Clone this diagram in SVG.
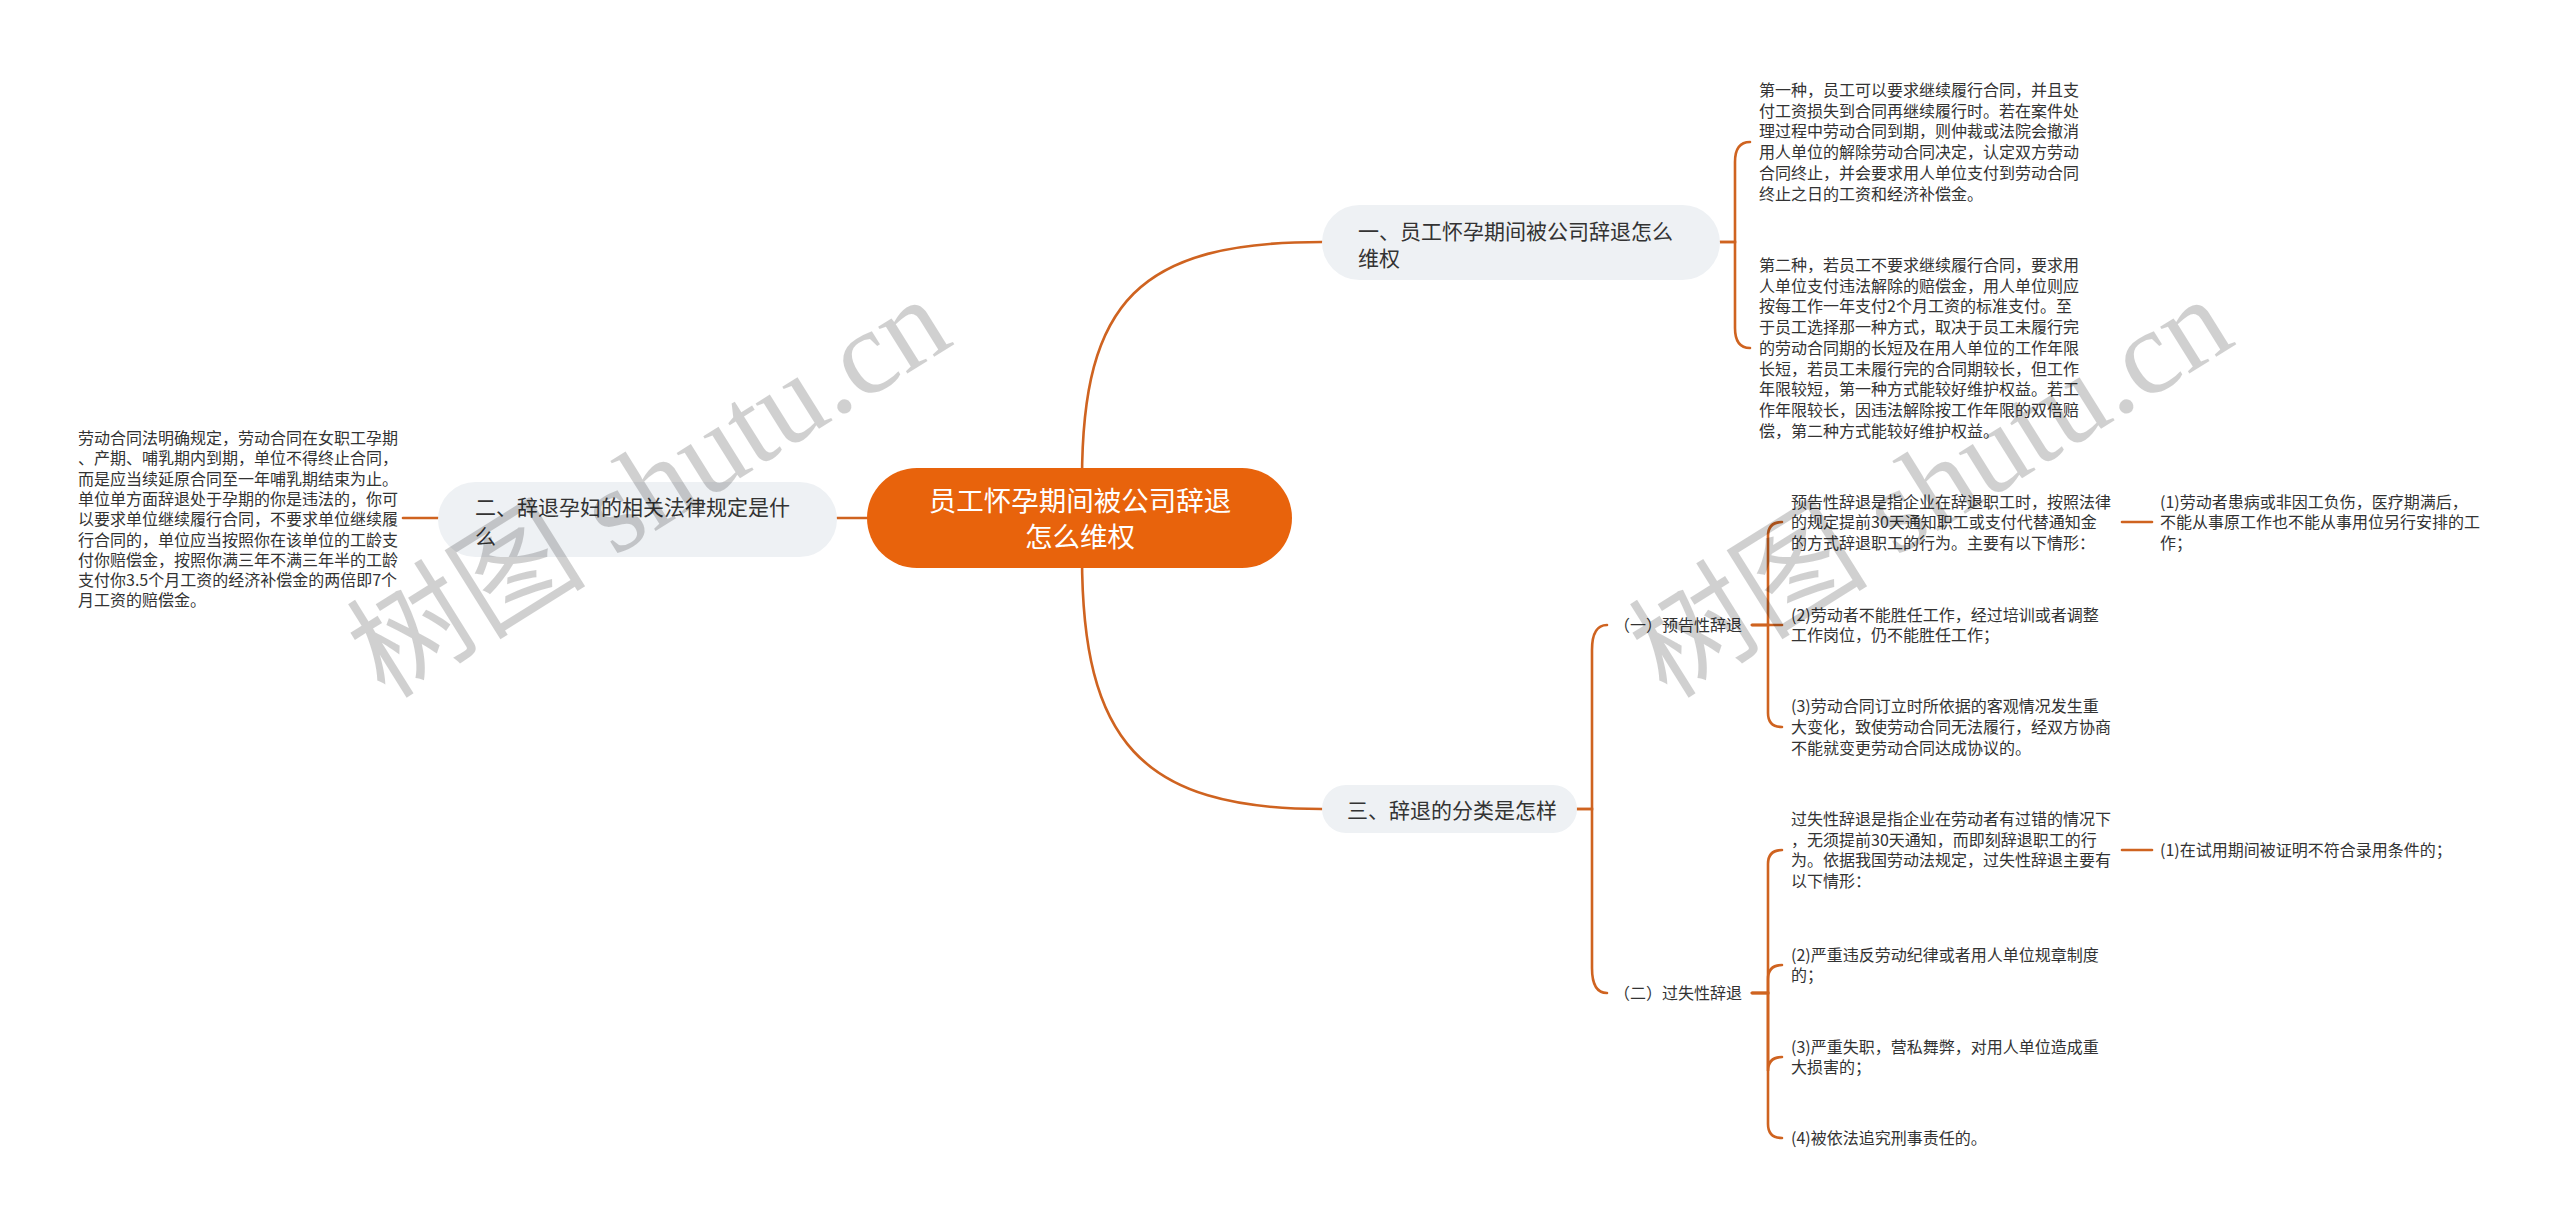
<svg xmlns="http://www.w3.org/2000/svg" width="2560" height="1225" viewBox="0 0 2560 1225">
<style>
.bg{fill:#ffffff}
.conn{fill:none;stroke:#CF6320;stroke-width:2.6;stroke-linecap:round}
.root{fill:#E8630C}
.sub{fill:#EEF1F4}
.rt{font-family:"Noto Sans CJK SC","Noto Sans",sans-serif;font-size:27.5px;fill:#ffffff;text-anchor:middle}
.st{font-family:"Noto Sans CJK SC","Noto Sans",sans-serif;font-size:21px;fill:#333333}
.lt{font-family:"Noto Sans CJK SC","Noto Sans",sans-serif;font-size:16px;fill:#333333}
.wm{font-family:"Liberation Serif","Noto Sans CJK SC",serif;font-size:120px;fill:#000000;opacity:0.18}
</style>
<rect class="bg" x="0" y="0" width="2560" height="1225"/>
<g id="connectors">
<path class="conn" d="M1082,480 C1082,300 1140,242 1322,242"/>
<path class="conn" d="M1082,556 C1082,740 1140,809 1322,809"/>
<path class="conn" d="M867,518 H837"/>
<path class="conn" d="M438,518 H403"/>
<path class="conn" d="M1720,242 H1735 V162 Q1735,142 1750,142"/>
<path class="conn" d="M1720,242 H1735 V328 Q1735,348 1750,348"/>
<path class="conn" d="M1577,809 H1592 V650 Q1592,625 1607,625"/>
<path class="conn" d="M1577,809 H1592 V968 Q1592,993 1607,993"/>
<path class="conn" d="M1752,625 H1768 V536 Q1768,522 1782,522"/>
<path class="conn" d="M1752,625 H1782"/>
<path class="conn" d="M1752,625 H1768 V713 Q1768,727 1782,727"/>
<path class="conn" d="M2122,522 H2152"/>
<path class="conn" d="M1752,993 H1768 V864 Q1768,850 1782,850"/>
<path class="conn" d="M1752,993 H1768 V979 Q1768,965 1782,965"/>
<path class="conn" d="M1752,993 H1768 V1071 Q1768,1057 1782,1057"/>
<path class="conn" d="M1752,993 H1768 V1124 Q1768,1138 1782,1138"/>
<path class="conn" d="M2122,850 H2152"/>
</g>
<g id="root">
<rect class="root" x="867" y="468" width="425" height="100" rx="50"/>
<text class="rt" x="1080" y="510.5">员工怀孕期间被公司辞退</text>
<text class="rt" x="1080" y="547">怎么维权</text>
</g>
<g id="n1">
<rect class="sub" x="1322" y="205" width="398" height="75" rx="37.5"/>
<text class="st" x="1358" y="238.5">一、员工怀孕期间被公司辞退怎么</text>
<text class="st" x="1358" y="266">维权</text>
</g>
<g id="n1a">
<text class="lt" x="1759" y="96">第一种，员工可以要求继续履行合同，并且支</text>
<text class="lt" x="1759" y="116.7">付工资损失到合同再继续履行时。若在案件处</text>
<text class="lt" x="1759" y="137.4">理过程中劳动合同到期，则仲裁或法院会撤消</text>
<text class="lt" x="1759" y="158.1">用人单位的解除劳动合同决定，认定双方劳动</text>
<text class="lt" x="1759" y="178.8">合同终止，并会要求用人单位支付到劳动合同</text>
<text class="lt" x="1759" y="199.5">终止之日的工资和经济补偿金。</text>
</g>
<g id="n1b">
<text class="lt" x="1759" y="271">第二种，若员工不要求继续履行合同，要求用</text>
<text class="lt" x="1759" y="291.7">人单位支付违法解除的赔偿金，用人单位则应</text>
<text class="lt" x="1759" y="312.4">按每工作一年支付2个月工资的标准支付。至</text>
<text class="lt" x="1759" y="333.1">于员工选择那一种方式，取决于员工未履行完</text>
<text class="lt" x="1759" y="353.8">的劳动合同期的长短及在用人单位的工作年限</text>
<text class="lt" x="1759" y="374.5">长短，若员工未履行完的合同期较长，但工作</text>
<text class="lt" x="1759" y="395.2">年限较短，第一种方式能较好维护权益。若工</text>
<text class="lt" x="1759" y="415.9">作年限较长，因违法解除按工作年限的双倍赔</text>
<text class="lt" x="1759" y="436.6">偿，第二种方式能较好维护权益。</text>
</g>
<g id="n2">
<rect class="sub" x="438" y="482" width="399" height="75" rx="37.5"/>
<text class="st" x="475" y="515">二、辞退孕妇的相关法律规定是什</text>
<text class="st" x="475" y="543.5">么</text>
</g>
<g id="n2a">
<text class="lt" x="78" y="444">劳动合同法明确规定，劳动合同在女职工孕期</text>
<text class="lt" x="78" y="464.3">、产期、哺乳期内到期，单位不得终止合同，</text>
<text class="lt" x="78" y="484.6">而是应当续延原合同至一年哺乳期结束为止。</text>
<text class="lt" x="78" y="504.9">单位单方面辞退处于孕期的你是违法的，你可</text>
<text class="lt" x="78" y="525.2">以要求单位继续履行合同，不要求单位继续履</text>
<text class="lt" x="78" y="545.5">行合同的，单位应当按照你在该单位的工龄支</text>
<text class="lt" x="78" y="565.8">付你赔偿金，按照你满三年不满三年半的工龄</text>
<text class="lt" x="78" y="586.1">支付你3.5个月工资的经济补偿金的两倍即7个</text>
<text class="lt" x="78" y="606.4">月工资的赔偿金。</text>
</g>
<g id="n3">
<rect class="sub" x="1322" y="785" width="255" height="48" rx="24"/>
<text class="st" x="1347" y="817.5">三、辞退的分类是怎样</text>
</g>
<g id="n3a">
<text class="lt" x="1614" y="631">（一）预告性辞退</text>
</g>
<g id="n3a1">
<text class="lt" x="1791" y="507.5">预告性辞退是指企业在辞退职工时，按照法律</text>
<text class="lt" x="1791" y="528.3">的规定提前30天通知职工或支付代替通知金</text>
<text class="lt" x="1791" y="549.1">的方式辞退职工的行为。主要有以下情形：</text>
</g>
<g id="n3a1a">
<text class="lt" x="2160" y="507.5">(1)劳动者患病或非因工负伤，医疗期满后，</text>
<text class="lt" x="2160" y="528.3">不能从事原工作也不能从事用位另行安排的工</text>
<text class="lt" x="2160" y="549.1">作；</text>
</g>
<g id="n3a2">
<text class="lt" x="1791" y="620.6">(2)劳动者不能胜任工作，经过培训或者调整</text>
<text class="lt" x="1791" y="641.4">工作岗位，仍不能胜任工作；</text>
</g>
<g id="n3a3">
<text class="lt" x="1791" y="712.2">(3)劳动合同订立时所依据的客观情况发生重</text>
<text class="lt" x="1791" y="733">大变化，致使劳动合同无法履行，经双方协商</text>
<text class="lt" x="1791" y="753.8">不能就变更劳动合同达成协议的。</text>
</g>
<g id="n3b">
<text class="lt" x="1614" y="999">（二）过失性辞退</text>
</g>
<g id="n3b1">
<text class="lt" x="1791" y="824.8">过失性辞退是指企业在劳动者有过错的情况下</text>
<text class="lt" x="1791" y="845.6">，无须提前30天通知，而即刻辞退职工的行</text>
<text class="lt" x="1791" y="866.4">为。依据我国劳动法规定，过失性辞退主要有</text>
<text class="lt" x="1791" y="887.2">以下情形：</text>
</g>
<g id="n3b1a">
<text class="lt" x="2160" y="856">(1)在试用期间被证明不符合录用条件的；</text>
</g>
<g id="n3b2">
<text class="lt" x="1791" y="961">(2)严重违反劳动纪律或者用人单位规章制度</text>
<text class="lt" x="1791" y="981">的；</text>
</g>
<g id="n3b3">
<text class="lt" x="1791" y="1053">(3)严重失职，营私舞弊，对用人单位造成重</text>
<text class="lt" x="1791" y="1073">大损害的；</text>
</g>
<g id="n3b4">
<text class="lt" x="1791" y="1144">(4)被依法追究刑事责任的。</text>
</g>
<g id="watermarks">
<text class="wm" transform="translate(385,700) rotate(-32)">树图 shutu.cn</text>
<text class="wm" transform="translate(1667,700) rotate(-32)">树图 shutu.cn</text>
</g>
</svg>
